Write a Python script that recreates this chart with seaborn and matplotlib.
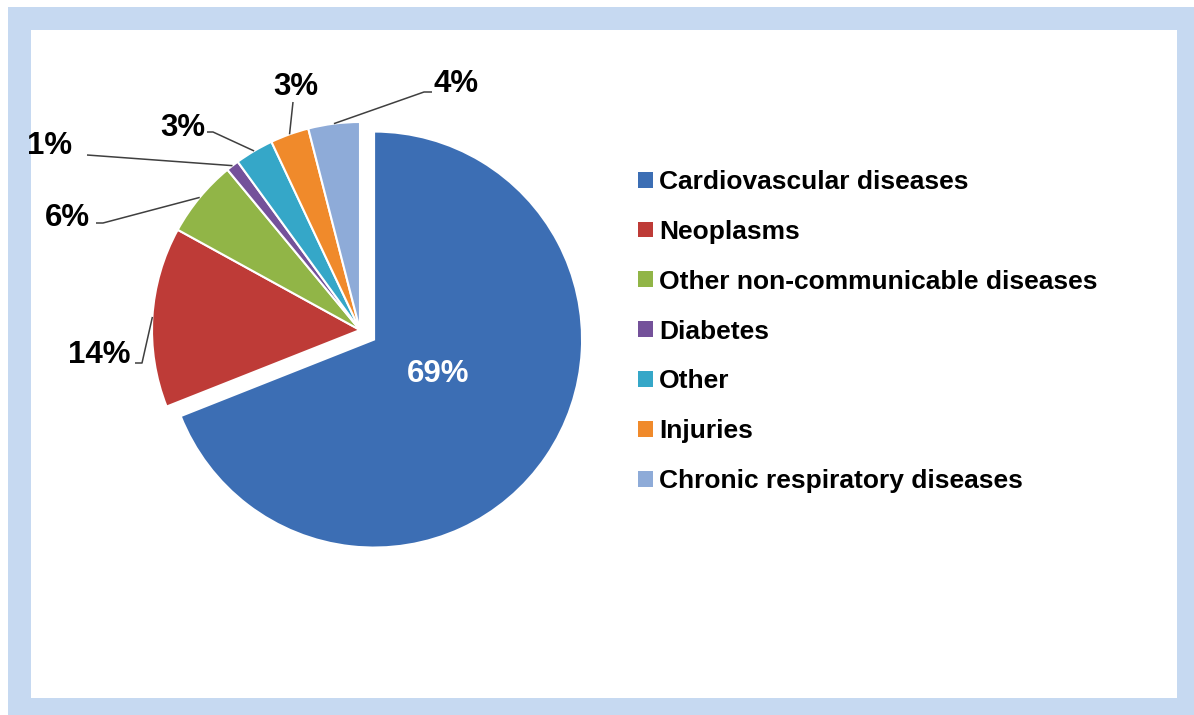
import numpy as np
import matplotlib
matplotlib.use("Agg")
import matplotlib.pyplot as plt
from matplotlib.patches import Rectangle
from matplotlib.font_manager import FontProperties
import seaborn as sns

# ---- data ----
categories = ["Cardiovascular diseases", "Neoplasms", "Other non-communicable diseases",
              "Diabetes", "Other", "Injuries", "Chronic respiratory diseases"]
values = [69, 14, 6, 1, 3, 3, 4]
pct_labels = ["69%", "14%", "6%", "1%", "3%", "3%", "4%"]

# ---- style ----
colors = ["#3C6EB4", "#BE3B37", "#91B547", "#74519A", "#35A7C8", "#F08A2B", "#8EABD8"]
explode_px = [17, 0, 0, 0, 0, 0, 0]

sns.set_style("white")
plt.rcParams["font.family"] = ["Liberation Sans", "DejaVu Sans"]
plt.rcParams["text.color"] = "black"

W, H = 1194, 715
fig = plt.figure(figsize=(W / 100, H / 100), dpi=100)
ax = fig.add_axes([0, 0, 1, 1])

def Y(y):
    return H - y

# frame
ax.add_patch(Rectangle((8, Y(715)), 1194 - 8, 715 - 7, facecolor="#C6D9F1", edgecolor="none", zorder=0))
ax.add_patch(Rectangle((31, Y(698)), 1177 - 31, 698 - 30, facecolor="white", edgecolor="none", zorder=0))

cx, cy, R = 360, Y(330), 208
wedges, _ = ax.pie(values, colors=colors, explode=explode_px, startangle=90, counterclock=False,
                   center=(cx, cy), radius=R, frame=True,
                   wedgeprops=dict(edgecolor="white", linewidth=1.5, zorder=2))

ax.set_xlim(0, W)
ax.set_ylim(0, H)
ax.set_aspect("equal", adjustable="box")
ax.axis("off")

lab_font = dict(fontsize=22.5, fontweight="bold", family=["Liberation Sans", "DejaVu Sans"])

# label layout: text centre (screen px) and leader elbow points (screen px)
layout = [
    ((438, 374), None),
    ((99, 355), [(142, 363), (135, 363)]),
    ((67, 218), [(103, 223), (96, 223)]),
    ((50, 146), [(87, 155)]),
    ((183, 128), [(213, 132), (207, 132)]),
    ((296, 87), [(293, 102)]),
    ((456, 84), [(424, 92), (432, 92)]),
]

for w, lab, (tpos, elbows) in zip(wedges, pct_labels, layout):
    tx, ty = tpos
    if elbows is None:
        ax.text(tx, Y(ty), lab, color="white", ha="center", va="center", zorder=5, **lab_font)
        continue
    mid = np.deg2rad((w.theta1 + w.theta2) / 2)
    ex = w.center[0] + w.r * np.cos(mid)
    ey = w.center[1] + w.r * np.sin(mid)
    xs = [ex] + [p[0] for p in elbows]
    ys = [ey] + [Y(p[1]) for p in elbows]
    ax.plot(xs, ys, color="#3F3F3F", lw=1.1, zorder=3, solid_capstyle="butt")
    ax.text(tx, Y(ty), lab, color="black", ha="center", va="center", zorder=5, **lab_font)

leg = ax.legend(wedges, categories, loc="upper left",
                bbox_to_anchor=(638 / W, Y(170) / H), bbox_transform=fig.transFigure,
                frameon=False, borderpad=0, borderaxespad=0,
                prop=FontProperties(family="Liberation Sans", weight="bold", size=19),
                handlelength=0.55, handleheight=0.55, handletextpad=0.25, labelspacing=0.98)
for h in leg.legend_handles:
    h.set_edgecolor("none")
for t in leg.get_texts():
    t.set_color("black")

fig.savefig("out.png", dpi=100, facecolor="white")
